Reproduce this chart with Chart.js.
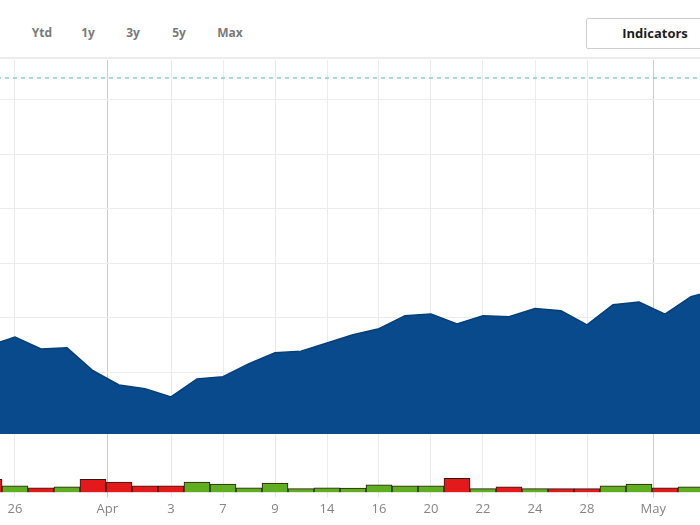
<!DOCTYPE html>
<html>
<head>
<meta charset="utf-8">
<script src="https://cdn.jsdelivr.net/npm/chart.js@4/dist/chart.umd.min.js"></script>
<style>
  html, body { margin: 0; padding: 0; background: #fff; width: 700px; height: 525px; overflow: hidden; position: relative; font-family: "Open Sans", "Liberation Sans", sans-serif; }
  .rng { position: absolute; top: 24px; font-size: 12px; font-weight: 700; color: #7a7a7a; transform: translateX(-50%); line-height: 18px; }
  .ind { position: absolute; left: 586px; top: 18px; width: 130px; height: 31px; border: 1px solid #cfcfcf; border-radius: 2px; box-sizing: border-box; }
  .indtxt { position: absolute; left: 655px; top: 24px; transform: translateX(-50%); font-size: 13px; font-weight: 700; color: #1e1e1e; line-height: 18px; }
  .sep { position: absolute; left: 0; top: 57px; width: 700px; height: 2px; background: #ececec; }
  canvas { position: absolute; left: 0; }
</style>
</head>
<body>
<div class="rng" style="left:42px">Ytd</div>
<div class="rng" style="left:88px">1y</div>
<div class="rng" style="left:133px">3y</div>
<div class="rng" style="left:179px">5y</div>
<div class="rng" style="left:230px">Max</div>
<div class="ind"></div>
<div class="indtxt">Indicators</div>
<div class="sep"></div>
<canvas id="price" width="700" height="374" style="top:60px"></canvas>
<canvas id="vol" width="700" height="91" style="top:434px"></canvas>
<script>
// ---- data (index -1 .. 27, one per trading session) ----
const firstIndex = -1;
const closePrices = [41.49, 41.65, 41.43, 41.45, 41.03, 40.77, 40.70, 40.55, 40.88, 40.92,
                     41.16, 41.36, 41.39, 41.54, 41.69, 41.80, 42.04, 42.07, 41.89, 42.04,
                     42.02, 42.17, 42.13, 41.87, 42.24, 42.29, 42.07, 42.39, 42.51];
const volumesM = [1.4, 0.7, 0.5, 0.6, 1.4, 1.1, 0.7, 0.7, 1.1, 0.9,
                  0.5, 1.0, 0.4, 0.5, 0.45, 0.8, 0.7, 0.7, 1.5, 0.4,
                  0.6, 0.4, 0.4, 0.4, 0.7, 0.9, 0.5, 0.6, 0.6];
const volumeDirection = ['down','up','down','up','down','down','down','down','up','up',
                         'up','up','up','up','up','up','up','up','down','up',
                         'down','up','down','down','up','up','down','up','up'];
const referencePrice = 46.40;
const tickPositions = [0, 3.55, 6, 8, 10, 12, 14, 16, 18, 20, 22, 24.55];
const tickLabels = ['26', 'Apr', '3', '7', '9', '14', '16', '20', '22', '24', '28', 'May'];
const monthLabels = ['Apr', 'May'];

const xMin = -15 / 26, xMax = 685 / 26;
const pricePoints = closePrices.map((v, i) => ({ x: firstIndex + i, y: v }));
const volPoints = volumesM.map((v, i) => ({ x: firstIndex + i, y: v }));
const volColors = volumeDirection.map(d => d === 'up' ? '#5fae1f' : '#e3191c');

function setTicks(scale) { scale.ticks = tickPositions.map(v => ({ value: v })); }
function gridColor(ctx) {
  const lbl = tickLabels[ctx.index];
  return monthLabels.includes(lbl) ? '#cdcdcd' : '#ebebeb';
}
const xScaleBase = {
  type: 'linear', min: xMin, max: xMax, offset: false,
  afterBuildTicks: setTicks,
  grid: { color: gridColor, offset: false, lineWidth: 1 },
  border: { display: false }
};

new Chart(document.getElementById('price'), {
  type: 'line',
  data: {
    datasets: [
      { data: pricePoints, fill: 'start', backgroundColor: '#084a8b', borderColor: '#073f79', borderWidth: 1.5, pointRadius: 0, tension: 0, order: 2 },
      { data: [{ x: -1, y: referencePrice }, { x: 27, y: referencePrice }], borderColor: '#93cbc3', borderDash: [4, 4], borderWidth: 1.5, pointRadius: 0, fill: false, order: 1 }
    ]
  },
  options: {
    responsive: false, animation: false, devicePixelRatio: 1,
    layout: { padding: 0 },
    plugins: { legend: { display: false }, tooltip: { enabled: false } },
    scales: {
      x: Object.assign({}, xScaleBase, {
        ticks: { display: false },
        grid: { color: gridColor, drawTicks: false },
        border: { display: true, color: '#0a3563', width: 2 }
      }),
      y: {
        min: 39.87, max: 46.73,
        ticks: { display: false, stepSize: 1, includeBounds: false },
        grid: { color: '#ececec', drawTicks: false },
        border: { display: false }
      }
    }
  }
});

new Chart(document.getElementById('vol'), {
  type: 'bar',
  data: {
    datasets: [{ data: volPoints, backgroundColor: volColors, borderColor: '#2a1a10', borderWidth: 1, barPercentage: 1, categoryPercentage: 1 }]
  },
  options: {
    responsive: false, animation: false, devicePixelRatio: 1,
    layout: { padding: { top: 0, bottom: 4, left: 0, right: 0 } },
    plugins: { legend: { display: false }, tooltip: { enabled: false } },
    scales: {
      x: Object.assign({}, xScaleBase, {
        ticks: { autoSkip: false, maxRotation: 0, padding: 4, color: '#858585', font: { family: 'Open Sans', size: 13 },
                 callback: (v, i) => tickLabels[i] },
        grid: { color: gridColor, tickLength: 5, offset: false }
      }),
      y: { min: 0, max: 6.24, display: false }
    }
  }
});
</script>
</body>
</html>
